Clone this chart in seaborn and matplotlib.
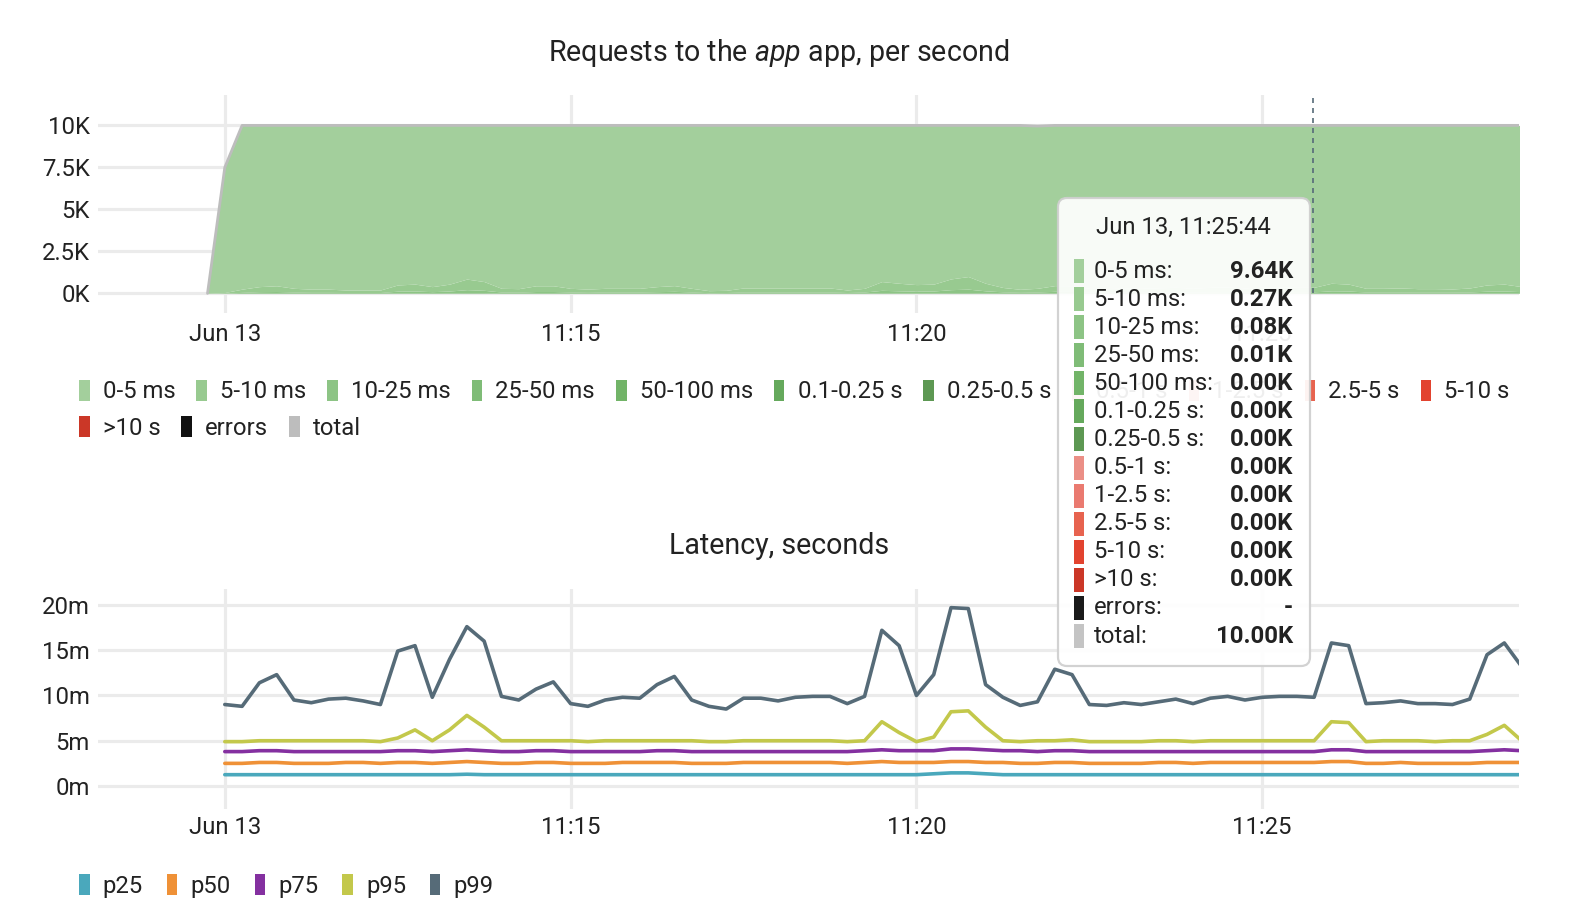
import numpy as np
import pandas as pd
import seaborn as sns
import matplotlib.pyplot as plt
from matplotlib.patches import Patch, Rectangle, FancyBboxPatch

sns.set_theme(style="white")
plt.rcParams['font.family'] = ['Roboto', 'DejaVu Sans']
plt.rcParams['mathtext.fontset'] = 'custom'
plt.rcParams['mathtext.it'] = 'Roboto:italic'
plt.rcParams['mathtext.rm'] = 'Roboto'

# ---- data ----
# request rates (K/s), one point every 15 s from 11:09:45
req_start = "2023-06-13 11:09:45"
req_total = [0.0, 7.5,
             10.0, 10.0, 10.0, 10.0, 10.0, 10.0, 10.0, 10.0, 10.0, 10.0,
             10.0, 10.0, 10.0, 10.0, 10.0, 10.0, 10.0, 10.0, 10.0, 10.0,
             10.0, 10.0, 10.0, 10.0, 10.0, 10.0, 10.0, 10.0, 10.0, 10.0,
             10.0, 10.0, 10.0, 10.0, 10.0, 10.0, 10.0, 10.0, 10.0, 10.0,
             10.0, 10.0, 10.0, 10.0, 10.0, 10.0, 9.96, 10.0, 10.0, 10.0,
             10.0, 10.0, 10.0, 10.0, 10.0, 10.0, 10.0, 10.0, 10.0, 10.0,
             10.0, 10.0, 10.0, 10.0, 10.0, 10.0, 10.0, 10.0, 10.0, 10.0,
             10.0, 10.0, 10.0, 10.0, 10.0]
req_0_5ms = [0.0, 7.45,
             9.75, 9.60, 9.55, 9.70, 9.75, 9.75, 9.80, 9.80, 9.80, 9.50,
             9.45, 9.60, 9.45, 9.15, 9.30, 9.70, 9.72, 9.55, 9.55, 9.70,
             9.75, 9.70, 9.70, 9.70, 9.60, 9.54, 9.70, 9.84, 9.82, 9.68,
             9.68, 9.68, 9.68, 9.68, 9.68, 9.80, 9.70, 9.30, 9.40, 9.48,
             9.45, 9.14, 9.00, 9.40, 9.65, 9.76, 9.66, 9.54, 9.55, 9.70,
             9.72, 9.68, 9.70, 9.67, 9.64, 9.70, 9.64, 9.62, 9.68, 9.64,
             9.62, 9.64, 9.64, 9.40, 9.45, 9.70, 9.70, 9.68, 9.72, 9.72,
             9.74, 9.68, 9.50, 9.45, 9.60]
req_5_10ms = [0.0, 0.04,
              0.19, 0.30, 0.34, 0.22, 0.19, 0.19, 0.15, 0.15, 0.15, 0.37,
              0.41, 0.30, 0.41, 0.63, 0.52, 0.22, 0.21, 0.34, 0.34, 0.22,
              0.19, 0.22, 0.22, 0.22, 0.30, 0.34, 0.22, 0.12, 0.13, 0.24,
              0.24, 0.24, 0.24, 0.24, 0.24, 0.15, 0.22, 0.52, 0.45, 0.39,
              0.41, 0.64, 0.75, 0.45, 0.26, 0.18, 0.22, 0.34, 0.34, 0.22,
              0.21, 0.24, 0.22, 0.25, 0.27, 0.22, 0.27, 0.28, 0.24, 0.27,
              0.28, 0.27, 0.27, 0.45, 0.41, 0.22, 0.22, 0.24, 0.21, 0.21,
              0.19, 0.24, 0.37, 0.41, 0.30]
req_10_25ms = [0.0, 0.01,
               0.05, 0.09, 0.10, 0.07, 0.05, 0.05, 0.04, 0.04, 0.04, 0.11,
               0.12, 0.09, 0.12, 0.19, 0.15, 0.07, 0.06, 0.10, 0.10, 0.07,
               0.05, 0.07, 0.07, 0.07, 0.09, 0.10, 0.07, 0.03, 0.04, 0.07,
               0.07, 0.07, 0.07, 0.07, 0.07, 0.04, 0.07, 0.15, 0.13, 0.11,
               0.12, 0.19, 0.22, 0.13, 0.08, 0.05, 0.07, 0.10, 0.10, 0.07,
               0.06, 0.07, 0.07, 0.07, 0.08, 0.07, 0.08, 0.09, 0.07, 0.08,
               0.09, 0.08, 0.08, 0.13, 0.12, 0.07, 0.07, 0.07, 0.06, 0.06,
               0.06, 0.07, 0.11, 0.12, 0.09]
req_25_50ms = [0.0, 0.0,
               0.01, 0.01, 0.01, 0.01, 0.01, 0.01, 0.01, 0.01, 0.01, 0.02,
               0.02, 0.01, 0.02, 0.03, 0.03, 0.01, 0.01, 0.01, 0.01, 0.01,
               0.01, 0.01, 0.01, 0.01, 0.01, 0.02, 0.01, 0.01, 0.01, 0.01,
               0.01, 0.01, 0.01, 0.01, 0.01, 0.01, 0.01, 0.03, 0.02, 0.02,
               0.02, 0.03, 0.03, 0.02, 0.01, 0.01, 0.01, 0.02, 0.01, 0.01,
               0.01, 0.01, 0.01, 0.01, 0.01, 0.01, 0.01, 0.01, 0.01, 0.01,
               0.01, 0.01, 0.01, 0.02, 0.02, 0.01, 0.01, 0.01, 0.01, 0.01,
               0.01, 0.01, 0.02, 0.02, 0.01]
# slower buckets stay at 0.00K for the whole window
req_zero = [0.0] * len(req_total)

# latency percentiles (ms), one point every 15 s from 11:10:00
lat_start = "2023-06-13 11:10:00"
p25 = [1.25, 1.25, 1.25, 1.25, 1.25, 1.25, 1.25, 1.25, 1.25, 1.25,
       1.25, 1.25, 1.25, 1.25, 1.3, 1.25, 1.25, 1.25, 1.25, 1.25,
       1.25, 1.25, 1.25, 1.25, 1.25, 1.25, 1.25, 1.25, 1.25, 1.25,
       1.25, 1.25, 1.25, 1.25, 1.25, 1.25, 1.25, 1.25, 1.25, 1.25,
       1.25, 1.35, 1.45, 1.45, 1.35, 1.25, 1.25, 1.25, 1.25, 1.25,
       1.25, 1.25, 1.25, 1.25, 1.25, 1.25, 1.25, 1.25, 1.25, 1.25,
       1.25, 1.25, 1.25, 1.25, 1.25, 1.25, 1.25, 1.25, 1.25, 1.25,
       1.25, 1.25, 1.25, 1.25, 1.25, 1.25]
p50 = [2.5, 2.5, 2.6, 2.6, 2.5, 2.5, 2.5, 2.6, 2.6, 2.5,
       2.6, 2.6, 2.5, 2.6, 2.7, 2.6, 2.5, 2.5, 2.6, 2.6,
       2.5, 2.5, 2.5, 2.6, 2.6, 2.6, 2.6, 2.5, 2.5, 2.5,
       2.6, 2.6, 2.6, 2.6, 2.6, 2.6, 2.5, 2.6, 2.7, 2.6,
       2.6, 2.6, 2.7, 2.7, 2.6, 2.6, 2.5, 2.5, 2.6, 2.6,
       2.5, 2.5, 2.5, 2.5, 2.6, 2.6, 2.5, 2.6, 2.6, 2.6,
       2.6, 2.6, 2.6, 2.6, 2.7, 2.7, 2.5, 2.5, 2.6, 2.5,
       2.5, 2.5, 2.5, 2.6, 2.6, 2.6]
p75 = [3.8, 3.8, 3.9, 3.9, 3.8, 3.8, 3.8, 3.8, 3.8, 3.8,
       3.9, 3.9, 3.8, 3.9, 4.0, 3.9, 3.8, 3.8, 3.9, 3.9,
       3.8, 3.8, 3.8, 3.8, 3.8, 3.9, 3.9, 3.8, 3.8, 3.8,
       3.8, 3.8, 3.8, 3.8, 3.8, 3.8, 3.8, 3.9, 4.0, 3.9,
       3.9, 3.9, 4.1, 4.1, 4.0, 3.9, 3.9, 3.8, 3.9, 3.9,
       3.8, 3.8, 3.8, 3.8, 3.8, 3.8, 3.8, 3.8, 3.8, 3.8,
       3.8, 3.8, 3.8, 3.8, 4.0, 4.0, 3.8, 3.8, 3.8, 3.8,
       3.8, 3.8, 3.8, 3.9, 4.0, 3.9]
p95 = [4.9, 4.9, 5.0, 5.0, 5.0, 5.0, 5.0, 5.0, 5.0, 4.9,
       5.3, 6.2, 5.0, 6.2, 7.8, 6.5, 5.0, 5.0, 5.0, 5.0,
       5.0, 4.9, 5.0, 5.0, 5.0, 5.0, 5.0, 5.0, 4.9, 4.9,
       5.0, 5.0, 5.0, 5.0, 5.0, 5.0, 4.9, 5.0, 7.1, 5.9,
       4.9, 5.4, 8.2, 8.3, 6.5, 5.0, 4.9, 5.0, 5.0, 5.1,
       4.9, 4.9, 4.9, 4.9, 5.0, 5.0, 4.9, 5.0, 5.0, 5.0,
       5.0, 5.0, 5.0, 5.0, 7.1, 7.0, 4.9, 5.0, 5.0, 5.0,
       4.9, 5.0, 5.0, 5.7, 6.7, 5.0]
p99 = [9.0, 8.8, 11.4, 12.3, 9.5, 9.2, 9.6, 9.7, 9.4, 9.0,
       14.9, 15.5, 9.8, 14.0, 17.6, 16.0, 9.9, 9.5, 10.7, 11.5,
       9.1, 8.8, 9.5, 9.8, 9.7, 11.2, 12.1, 9.5, 8.8, 8.5,
       9.7, 9.7, 9.4, 9.8, 9.9, 9.9, 9.1, 9.9, 17.2, 15.5,
       10.0, 12.3, 19.7, 19.6, 11.2, 9.8, 8.9, 9.3, 12.9, 12.3,
       9.0, 8.9, 9.2, 9.0, 9.3, 9.6, 9.1, 9.7, 9.9, 9.5,
       9.8, 9.9, 9.9, 9.8, 15.8, 15.5, 9.1, 9.2, 9.4, 9.1,
       9.1, 9.0, 9.6, 14.5, 15.8, 13.2]

bucket_names = ["0-5 ms", "5-10 ms", "10-25 ms", "25-50 ms", "50-100 ms",
                "0.1-0.25 s", "0.25-0.5 s", "0.5-1 s", "1-2.5 s", "2.5-5 s",
                "5-10 s", ">10 s"]
bucket_colors = ["#a3cf9c", "#98ca90", "#8dc485", "#7fbc77", "#72b468",
                 "#65a95c", "#5d9853", "#eb8f86", "#ea7a70", "#e7634f",
                 "#e2432f", "#cb3727"]
percentiles = ["p25", "p50", "p75", "p95", "p99"]
pct_colors = ["#4aa8bc", "#ef9137", "#8430a0", "#c3c84b", "#566b78"]

tooltip_time = "2023-06-13 11:25:44"
tooltip_title = "Jun 13, 11:25:44"
tooltip_labels = bucket_names + ["errors", "total"]
tooltip_values = ["9.64K", "0.27K", "0.08K", "0.01K", "0.00K", "0.00K", "0.00K",
                  "0.00K", "0.00K", "0.00K", "0.00K", "0.00K", "-", "10.00K"]

x_ticks = ["2023-06-13 11:10", "2023-06-13 11:15", "2023-06-13 11:20", "2023-06-13 11:25"]
x_ticklabels = ["Jun 13", "11:15", "11:20", "11:25"]
req_yticks = [0, 2.5, 5, 7.5, 10]
lat_yticks = [0, 5, 10, 15, 20]

# ---- frames ----
req_times = pd.date_range(req_start, periods=len(req_total), freq="15s")
lat_times = pd.date_range(lat_start, periods=len(p99), freq="15s")
lat_df = pd.DataFrame({"time": lat_times, "p25": p25, "p50": p50,
                       "p75": p75, "p95": p95, "p99": p99})
lat_long = lat_df.melt(id_vars="time", var_name="pct", value_name="ms")
req_df = pd.DataFrame({"time": req_times, "total": req_total})

stack_series = [req_0_5ms, req_5_10ms, req_10_25ms, req_25_50ms] + [req_zero] * 8

FS = 17.2
W, H = 1586, 922
fig = plt.figure(figsize=(W / 100, H / 100), dpi=100)
ax1 = fig.add_axes([98 / W, 1 - 313 / H, (1519.3 - 98) / W, (313 - 95) / H])
ax2 = fig.add_axes([98 / W, 1 - 809 / H, (1519.3 - 98) / W, (809 - 589) / H])

xlo = pd.Timestamp("2023-06-13 11:08:10")
xhi = pd.Timestamp("2023-06-13 11:28:43")
grid_c = "#ebebeb"
text_c = "#222222"

# stacked areas: slow buckets at the bottom, 0-5 ms on top
ax1.stackplot(req_times, stack_series[::-1], colors=bucket_colors[::-1],
              linewidth=0, zorder=2)
sns.lineplot(data=req_df, x="time", y="total", color="#bdbdbd", linewidth=2,
             ax=ax1, zorder=3)
ax1.vlines(pd.Timestamp(tooltip_time), 0, 11.81, colors="#566b78",
           linestyles=(0, (3, 3)), linewidth=1.2, zorder=4)

sns.lineplot(data=lat_long, x="time", y="ms", hue="pct", palette=pct_colors,
             hue_order=percentiles, linewidth=2.6, ax=ax2, legend=False, zorder=3)

for ax, ylim, yt, unit in [(ax1, (-1.17, 11.81), req_yticks, "K"),
                           (ax2, (-2.54, 21.76), lat_yticks, "m")]:
    ax.set_xlim(xlo, xhi)
    ax.set_ylim(*ylim)
    ax.set_yticks(yt)
    ax.set_yticklabels([f"{v:g}{unit}" for v in yt])
    ax.set_xticks(pd.to_datetime(x_ticks))
    ax.set_xticklabels(x_ticklabels)
    for v in yt:
        ax.axhline(v, color=grid_c, linewidth=2.3, zorder=0)
    for t in pd.to_datetime(x_ticks):
        ax.axvline(t, color=grid_c, linewidth=2.3, zorder=0)
    ax.set_xlabel("")
    ax.set_ylabel("")
    sns.despine(ax=ax, left=True, bottom=True)
    ax.tick_params(length=0, labelsize=FS, labelcolor=text_c)
    ax.tick_params(axis="y", pad=6)
ax1.tick_params(axis="x", pad=7)
ax2.tick_params(axis="x", pad=5)

# titles
fig.text(779 / W, 1 - 53 / H, r"Requests to the $\mathit{app}$ app, per second",
         ha="center", va="center", fontsize=20.6, color=text_c)
fig.text(779 / W, 1 - 546 / H, "Latency, seconds", ha="center", va="center",
         fontsize=20.6, color=text_c)

# legends
leg_kw = dict(loc="center left", frameon=False, handlelength=0.44,
              handleheight=0.98, handletextpad=0.55,
              borderaxespad=0, borderpad=0, fontsize=FS)
legend_names = bucket_names + ["errors", "total"]
legend_colors = bucket_colors + ["#111111", "#bdbdbd"]
h_all = [Patch(facecolor=c, edgecolor="none") for c in legend_colors]
leg1 = fig.legend(h_all[:11], legend_names[:11], ncol=11, columnspacing=0.88,
                  bbox_to_anchor=(79 / W, 1 - 391.5 / H), **leg_kw)
leg2 = fig.legend(h_all[11:], legend_names[11:], ncol=3, columnspacing=0.88,
                  bbox_to_anchor=(79 / W, 1 - 428 / H), **leg_kw)
h_pct = [Patch(facecolor=c, edgecolor="none") for c in pct_colors]
leg3 = fig.legend(h_pct, percentiles, ncol=5, columnspacing=1.0,
                  bbox_to_anchor=(79 / W, 1 - 886 / H), **leg_kw)
for lg in (leg1, leg2, leg3):
    for t in lg.get_texts():
        t.set_color(text_c)

# tooltip box (pixel coordinates, origin bottom-left)
bx0, bx1, by_top, by_bot = 1058, 1310, 198, 666
box = FancyBboxPatch((bx0, H - by_bot), bx1 - bx0, by_bot - by_top,
                     boxstyle="round,pad=0,rounding_size=9", transform=None,
                     facecolor="white", alpha=0.93, edgecolor="#cfcfcf",
                     linewidth=1.6, zorder=20)
fig.patches.append(box)
fig.text(1183 / W, 1 - 227.5 / H, tooltip_title, ha="center", va="center",
         fontsize=FS, color=text_c, zorder=21)
tip_colors = bucket_colors + ["#1a1a1a", "#c4c4c4"]
row0, row_step = 271, 28.08
for k, (lab, val, col) in enumerate(zip(tooltip_labels, tooltip_values, tip_colors)):
    yc = row0 + k * row_step
    sw = Rectangle((1074, H - yc - 12), 10, 24, transform=None,
                   facecolor=col, edgecolor="none", zorder=21)
    fig.patches.append(sw)
    fig.text(1094 / W, 1 - yc / H, lab + ":", ha="left", va="center",
             fontsize=FS, color=text_c, zorder=21)
    fig.text(1293 / W, 1 - yc / H, val, ha="right", va="center",
             fontsize=FS, fontweight="bold", color=text_c, zorder=21)

fig.savefig("out.png", dpi=100)
